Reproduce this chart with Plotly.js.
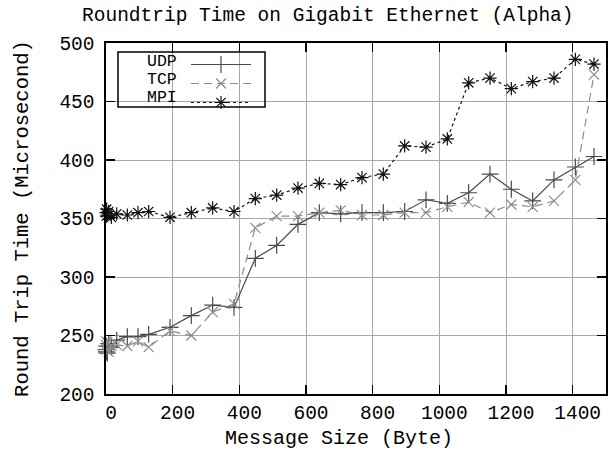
<!DOCTYPE html>
<html>
<head>
<meta charset="utf-8">
<script src="https://cdn.plot.ly/plotly-3.0.1.min.js"></script>
<style>html,body{margin:0;padding:0;background:#fff;}#chart{width:615px;height:451px;}</style>
</head>
<body>
<div id="chart"></div>
<script>
// Message sizes (bytes)
const sizes = [0, 1, 2, 4, 8, 16, 32, 64, 96, 128, 192, 256, 320, 384, 448, 512, 576, 640, 704, 768, 832, 896, 960, 1024, 1088, 1152, 1216, 1280, 1344, 1408, 1464];
// Round trip times (microseconds)
const udp = [238, 236, 241, 235, 243, 240, 246, 249, 249, 251, 257, 267, 276, 274, 316, 327, 345, 355, 354, 355, 355, 356, 366, 363, 372, 388, 375, 365, 383, 394, 403];
const tcp = [242, 245, 238, 244, 236, 241, 242, 241, 245, 240, 254, 250, 270, 277, 342, 352, 352, 355, 357, 353, 353, 355, 355, 360, 364, 355, 362, 360, 365, 383, 473];
const mpi = [355, 352, 358, 353, 356, 351, 354, 353, 355, 356, 351, 355, 359, 356, 367, 370, 376, 380, 379, 385, 388, 412, 411, 418, 466, 470, 461, 467, 470, 486, 482];
const seriesNames = ['UDP', 'TCP', 'MPI'];
const xTicks = [0, 200, 400, 600, 800, 1000, 1200, 1400];
const yTicks = [200, 250, 300, 350, 400, 450, 500];
const xTitle = 'Message Size (Byte)';

const FONT = 'Liberation Mono, Courier New, monospace';

const traces = [
  {x: sizes, y: udp, name: '', mode: 'lines+markers', cliponaxis: false,
   line: {color: '#4a4a4a', width: 1.2, dash: 'solid'},
   marker: {symbol: 'cross-thin-open', size: 12, color: '#4a4a4a', line: {color: '#4a4a4a', width: 1.2}}},
  {x: sizes, y: tcp, name: '', mode: 'lines+markers', cliponaxis: false,
   line: {color: '#8c8c8c', width: 1.2, dash: '8px,5px'},
   marker: {symbol: 'x-thin-open', size: 10, color: '#8c8c8c', line: {color: '#8c8c8c', width: 1.2}}},
  {x: sizes, y: mpi, name: '', mode: 'lines+markers', cliponaxis: false,
   line: {color: '#111111', width: 1.2, dash: '3px,3px'},
   marker: {symbol: 'asterisk-open', size: 11, color: '#111111', line: {color: '#111111', width: 1.2}}}
];

const legendRowY = [61, 79.5, 98];
const annotations = seriesNames.map((n, i) => ({
  text: n, xref: 'paper', yref: 'paper',
  x: (179 - 106) / 500, y: 1 - (legendRowY[i] - 43) / 351,
  xanchor: 'right', yanchor: 'middle', showarrow: false,
  font: {family: FONT, size: 16.5, color: '#000'}
}));
annotations.push({
  text: xTitle, xref: 'paper', yref: 'paper',
  x: (339 - 106) / 500, y: -(438 - 394) / 351,
  xanchor: 'center', yanchor: 'middle', showarrow: false,
  font: {family: FONT, size: 20, color: '#000'}
});

const layout = {
  width: 615, height: 451,
  margin: {l: 106, r: 9, t: 43, b: 57},
  paper_bgcolor: '#fff', plot_bgcolor: '#fff',
  font: {family: FONT, size: 19.5, color: '#000'},
  title: {text: 'Roundtrip Time on Gigabit Ethernet (Alpha)', x: 0.533, xref: 'container', xanchor: 'center',
          y: 1 - 14 / 451, yref: 'container', yanchor: 'middle', font: {family: FONT, size: 19.5, color: '#000'}},
  xaxis: {range: [0, 1500], tickvals: xTicks, ticktext: xTicks.map(String),
          ticks: 'inside', ticklen: 9, tickwidth: 1.3, tickcolor: '#000',
          showline: true, linecolor: '#000', linewidth: 1.6, mirror: 'ticks',
          showgrid: true, gridcolor: '#a8a8a8', gridwidth: 1, zeroline: false,
          ticklabelshift: 5, ticklabelstandoff: 0,
          automargin: false},
  yaxis: {range: [200, 500], tickvals: yTicks, ticktext: yTicks.map(String),
          ticks: 'inside', ticklen: 9, tickwidth: 1.3, tickcolor: '#000',
          showline: true, linecolor: '#000', linewidth: 1.6, mirror: 'ticks',
          showgrid: true, gridcolor: '#a8a8a8', gridwidth: 1, zeroline: false,
          ticklabelstandoff: 6,
          title: {text: 'Round Trip Time (Microsecond)', font: {family: FONT, size: 20.5}, standoff: 25},
          automargin: false},
  showlegend: true,
  legend: {x: (186 - 106) / 500, y: 1 - (50 - 43) / 351, xanchor: 'left', yanchor: 'top',
           xref: 'paper', yref: 'paper',
           bgcolor: 'rgba(0,0,0,0)', borderwidth: 0, itemwidth: 60,
           font: {family: FONT, size: 10}, tracegroupgap: 0},
  shapes: [{type: 'rect', xref: 'paper', yref: 'paper',
            x0: (118 - 106) / 500, x1: (265 - 106) / 500,
            y0: 1 - (52 - 43) / 351, y1: 1 - (107 - 43) / 351,
            line: {color: '#000', width: 1.5}, fillcolor: 'rgba(0,0,0,0)', layer: 'above'}],
  annotations: annotations
};

Plotly.newPlot('chart', traces, layout, {staticPlot: true, displayModeBar: false});
</script>
</body>
</html>
